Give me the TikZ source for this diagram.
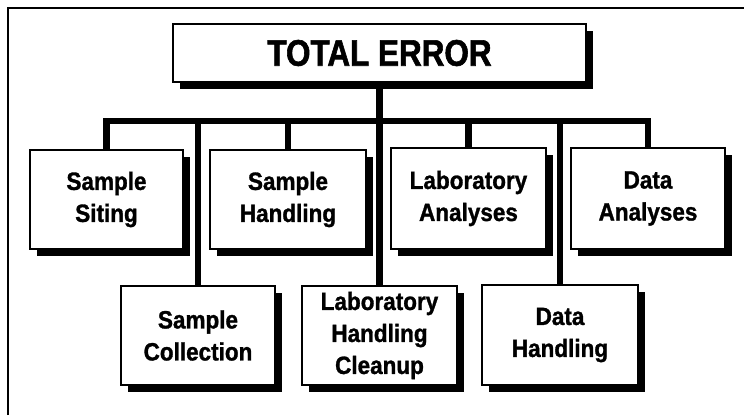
\documentclass[tikz,border=0pt]{standalone}
\usepackage{fontspec}
\setmainfont[FakeStretch=0.9,FakeBold=1.2]{Liberation Sans}
\newfontfamily\titlefont[FakeStretch=0.85,FakeBold=1.5]{Liberation Sans}
\usetikzlibrary{shadows,backgrounds}
\begin{document}
\begin{tikzpicture}[x=1pt,y=-1pt,
  box/.style={draw=black,line width=1.6pt,fill=white,align=center,
    font=\bfseries\fontsize{25}{32}\selectfont,inner sep=0pt,
    drop shadow={shadow xshift=7pt,shadow yshift=-7pt,opacity=1,fill=black}},
  conn/.style={line width=6.5pt,draw=black},
  frameline/.style={line width=1.8pt,draw=black}]
\useasboundingbox (0,0) rectangle (744,415);
\draw[frameline] (8,415) -- (8,8) -- (744,8);
% top
\node[box,minimum width=413pt,minimum height=58pt,font=\titlefont\bfseries\fontsize{37}{40}\selectfont] (te) at (379.5,53) {TOTAL ERROR};
% top row
\node[box,minimum width=153pt,minimum height=99pt] (ss) at (106.5,199.5) {Sample\\Siting};
\node[box,minimum width=156pt,minimum height=99pt] (sh) at (288,199.5) {Sample\\Handling};
\node[box,minimum width=155pt,minimum height=101pt] (la) at (468.5,198.5) {Laboratory\\Analyses};
\node[box,minimum width=154pt,minimum height=101pt] (da) at (648,198.5) {Data\\Analyses};
% bottom row
\node[box,minimum width=154pt,minimum height=99pt] (sc) at (198,335.5) {Sample\\Collection};
\node[box,minimum width=155pt,minimum height=99pt] (lhc) at (379.5,335.5) {Laboratory\\Handling\\Cleanup};
\node[box,minimum width=156pt,minimum height=100pt] (dh) at (560,335) {Data\\Handling};
\coordinate (busL) at (ss.north |- 0,121);
\coordinate (busR) at (da.north |- 0,121);
\begin{scope}[on background layer]
\draw[conn] ([xshift=-3.25pt]busL) -- ([xshift=3.25pt]busR);
\draw[conn] (ss.north) -- (ss.north |- busL);
\draw[conn] (sh.north) -- (sh.north |- busL);
\draw[conn] (la.north) -- (la.north |- busL);
\draw[conn] (da.north) -- (da.north |- busL);
\draw[conn] (sc.north) -- (sc.north |- busL);
\draw[conn] (dh.north) -- (dh.north |- busL);
\draw[conn] (te.south) -- (lhc.north);
\end{scope}
\end{tikzpicture}
\end{document}
